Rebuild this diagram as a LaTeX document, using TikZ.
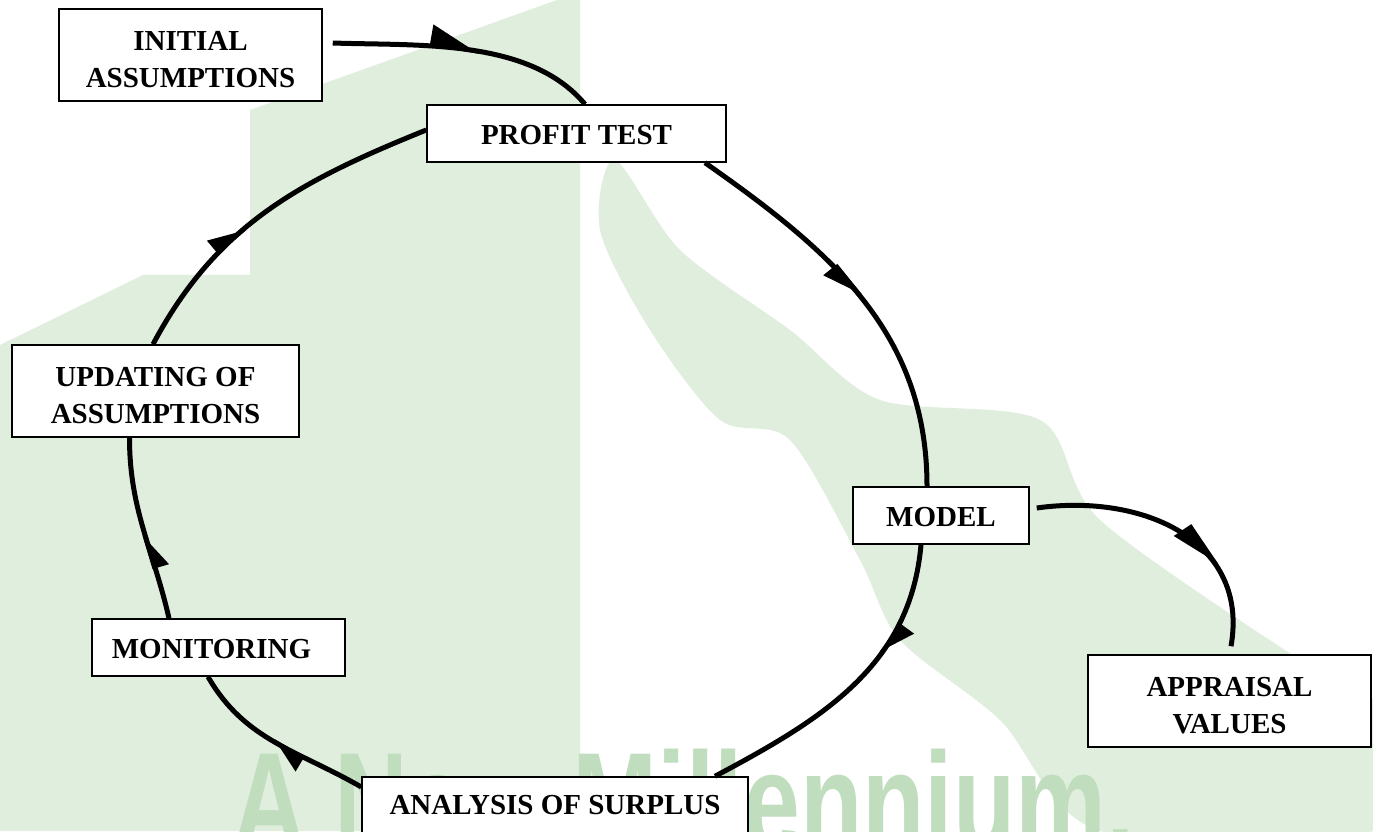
\documentclass[tikz,border=0pt]{standalone}
\usepackage{fontspec}
\setmainfont{Liberation Serif}
\setsansfont{Liberation Sans}
\usetikzlibrary{arrows.meta,decorations.markings,calc}
\definecolor{land}{HTML}{E0EEDD}
\definecolor{wmtext}{HTML}{C0DDBE}
\pgfdeclarelayer{wm}
\pgfsetlayers{wm,main}
\newcommand{\twolines}[2]{\raisebox{-7pt}[\height][\depth]{\begin{tabular}{@{}c@{}}#1\\#2\end{tabular}}}
\newcommand{\oneline}[1]{\raisebox{-2pt}[\height][\depth]{#1}}
\tikzset{
  box/.style={draw=black, line width=1.5pt, fill=white, inner sep=0pt, align=center,
    font=\bfseries\fontsize{29}{37}\selectfont},
  conn/.style={line width=5pt},
  harpL/.style n args={3}{postaction={decorate,decoration={markings,
      mark=at position #1 with {\arrow{Triangle[left,length=#2,width=#3]}}}}},
  harpR/.style n args={3}{postaction={decorate,decoration={markings,
      mark=at position #1 with {\arrow{Triangle[right,length=#2,width=#3]}}}}},
}
\begin{document}
\begin{tikzpicture}[x=1pt,y=1pt]
\useasboundingbox (0,0) rectangle (1373,831);

% nodes
\node[box, minimum width=263pt, minimum height=92pt] (init) at (190.5,776) {\twolines{INITIAL}{ASSUMPTIONS}};
\node[box, minimum width=299pt, minimum height=57pt] (profit) at (576.5,697.5) {\oneline{PROFIT TEST}};
\node[box, minimum width=287pt, minimum height=92pt] (upd) at (155.5,440) {\twolines{UPDATING OF}{ASSUMPTIONS}};
\node[box, minimum width=253pt, minimum height=57pt] (mon) at (218.5,183.5) {\oneline{MONITORING}\hspace*{14pt}};
\node[box, minimum width=176pt, minimum height=57pt] (model) at (941,315.5) {\oneline{MODEL}};
\node[box, minimum width=283pt, minimum height=92pt] (appr) at (1229.5,130) {\twolines{APPRAISAL}{VALUES}};
\node[box, minimum width=386pt, minimum height=57pt] (anal) at (555,25.5) {ANALYSIS OF SURPLUS};

% connectors
\draw[conn, harpL={0.55}{44pt}{36pt}] ([xshift=10pt,yshift=12pt]init.east) to[out=-2,in=130,looseness=0.85] ([xshift=8.5pt]profit.north);
\draw[conn, harpR={0.5}{34pt}{30pt}] ([xshift=128.5pt]profit.south) to[out=-35,in=90] ([xshift=-14pt]model.north);
\draw[conn, harpL={0.36}{30pt}{28pt}] ([xshift=-20pt]model.south) to[out=-95,in=28] ([xshift=160pt]anal.north);
\draw[conn, harpL={0.52}{30pt}{28pt}] ([yshift=18.5pt]anal.west) to[out=150,in=-60] ([xshift=-10.5pt]mon.south);
\draw[conn, harpR={0.47}{30pt}{28pt}] ([xshift=-49.5pt]mon.north) to[out=103,in=-90] ([xshift=-26pt]upd.south);
\draw[conn, harpL={0.42}{32pt}{28pt}] ([xshift=-2.5pt]upd.north) to[out=62,in=202] ([yshift=3.5pt]profit.west);
\draw[conn, harpR={0.7}{42pt}{36pt}] ([xshift=7pt,yshift=7.5pt]model.east) to[out=8,in=80,looseness=1.15] ([xshift=1.5pt,yshift=8pt]appr.north);

% watermark background
\begin{pgfonlayer}{wm}
  \fill[white] (0,0) rectangle (1373,831);
  \begin{scope}[shift={(0,831)}, y=-1pt]
    \fill[land] (250,110) -- (557,0) -- (580,0) -- (580,831) -- (0,831) -- (0,345) -- (143,275) -- (250,275) -- cycle;
    \fill[land] plot[smooth cycle, tension=0.5] coordinates {(615,160) (680,250) (790,330) (880,400) (1040,420) (1100,520) (1300,660) (1373,700) (1373,831) (1100,831) (1000,720) (900,640) (860,560) (790,440) (720,420) (650,330) (600,230)};
  \end{scope}
  \node[anchor=base west, inner sep=0pt, text=wmtext, font=\sffamily\bfseries\fontsize{140}{140}\selectfont] (wmark) at (232,-19) {\scalebox{0.73}[1]{A New Millennium.}};
\end{pgfonlayer}
\end{tikzpicture}
\end{document}
